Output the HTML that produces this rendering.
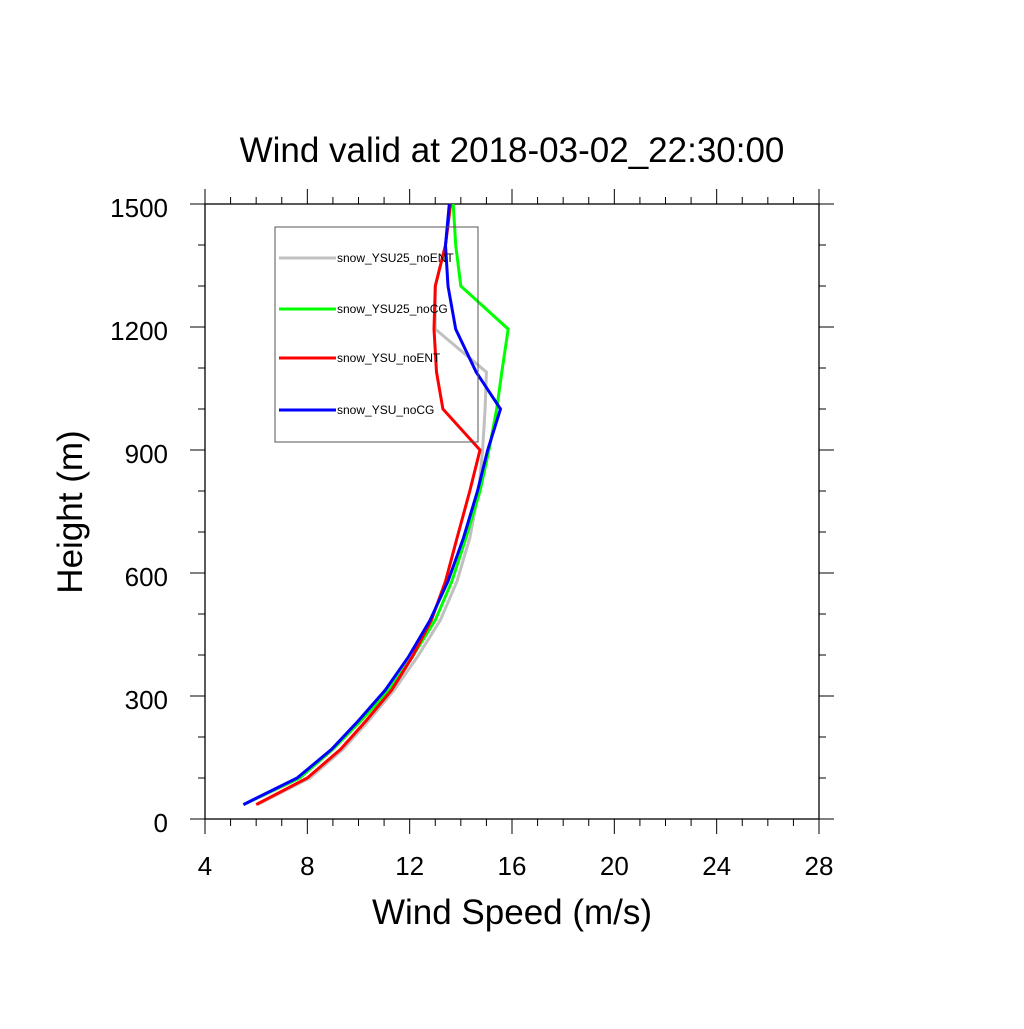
<!DOCTYPE html>
<html><head><meta charset="utf-8"><style>
body{margin:0;background:#fff}
svg text{font-family:"Liberation Sans",sans-serif}
</style></head><body>
<svg id="chart" width="1024" height="1024" viewBox="0 0 1024 1024" xmlns="http://www.w3.org/2000/svg">
<rect width="1024" height="1024" fill="#fff"/>
<text x="512" y="162" font-size="35" text-anchor="middle">Wind valid at 2018-03-02_22:30:00</text>
<text x="512" y="924" font-size="35" text-anchor="middle">Wind Speed (m/s)</text>
<text transform="translate(82,512) rotate(-90)" font-size="35" text-anchor="middle">Height (m)</text>
<g id="axes"></g>
<g id="series"></g>
<g id="legend"></g>
</svg>
<script>
const heights = [35,100,170,240,315,395,485,580,685,800,900,1000,1090,1195,1300,1400,1500];
const seriesNames = ["snow_YSU25_noENT","snow_YSU25_noCG","snow_YSU_noENT","snow_YSU_noCG"];
const seriesColors = ["#c0c0c0","#00ff00","#ff0000","#0000ff"];
const grayVals  = [6.05,8.1,9.4,10.4,11.4,12.3,13.2,13.85,14.35,14.7,14.85,14.95,15.0,13.0,13.0,13.4,13.6];
const greenVals = [5.5,7.7,9.0,10.1,11.2,12.1,13.0,13.65,14.2,14.75,15.1,15.4,15.6,15.85,14.0,13.8,13.7];
const redVals   = [6.0,8.0,9.3,10.3,11.3,12.1,12.85,13.4,13.85,14.35,14.75,13.3,13.05,12.95,13.0,13.4,13.6];
const blueVals  = [5.5,7.6,8.95,10.0,11.05,11.95,12.8,13.5,14.1,14.65,15.05,15.55,14.6,13.8,13.5,13.4,13.55];
const xTicks = [4,8,12,16,20,24,28];
const yTicks = [0,300,600,900,1200,1500];

const X0=205,X1=819,Y0=819,Y1=204;
const xs=v=>X0+(v-4)/24*(X1-X0);
const ys=v=>Y0-(v/1500)*(Y0-Y1);
const NS="http://www.w3.org/2000/svg";
function mk(tag,attrs,parent){const e=document.createElementNS(NS,tag);for(const k in attrs)e.setAttribute(k,attrs[k]);parent.appendChild(e);return e;}
const axes=document.getElementById('axes');
const frame=mk('rect',{x:X0,y:Y1,width:X1-X0,height:Y0-Y1,fill:'none',stroke:'#000','stroke-width':1.3},axes);


for(let v=4;v<=28;v++){
  const maj=(v%4===0), L=maj?15:7, x=xs(v);
  const t1=mk('line',{x1:x,x2:x,y1:Y0,y2:Y0+L,stroke:'#000','stroke-width':1},axes);
  
  
  const t2=mk('line',{x1:x,x2:x,y1:Y1,y2:Y1-L,stroke:'#000','stroke-width':1},axes);
  
  
}
for(let v=0;v<=1500;v+=100){
  const maj=(v%300===0), L=maj?15:7, y=ys(v);
  const t1=mk('line',{x1:X0,x2:X0-L,y1:y,y2:y,stroke:'#000','stroke-width':1},axes);
  
  
  const t2=mk('line',{x1:X1,x2:X1+L,y1:y,y2:y,stroke:'#000','stroke-width':1},axes);
  
  
}
xTicks.forEach(v=>{
  const t=mk('text',{x:xs(v),y:Y0+56,'font-size':26,'text-anchor':'middle'},axes);
  t.textContent=v;
  
  
});
yTicks.forEach(v=>{
  const t=mk('text',{x:X0-37,y:ys(v)+13,'font-size':26,'text-anchor':'end'},axes);
  t.textContent=v;
  
  
});
const ser=document.getElementById('series');
const allVals=[grayVals,greenVals,redVals,blueVals];
allVals.forEach((vals,i)=>{
  const pts=vals.map((v,j)=>xs(v).toFixed(1)+','+ys(heights[j]).toFixed(1)).join(' ');
  const p=mk('polyline',{points:pts,fill:'none',stroke:seriesColors[i],'stroke-width':3,'stroke-linejoin':'miter'},ser);
  
  
});
const leg=document.getElementById('legend');
const box=mk('rect',{x:275,y:227,width:203,height:215,fill:'none',stroke:'#555','stroke-width':1},leg);


const legY=[258,309,358,410];
seriesNames.forEach((n,i)=>{
  const l=mk('line',{x1:279,x2:336,y1:legY[i],y2:legY[i],stroke:seriesColors[i],'stroke-width':3},leg);
  
  
  const t=mk('text',{x:337,y:legY[i]+4,'font-size':12},leg);
  t.textContent=n;
  
  
});
</script>
</body></html>
